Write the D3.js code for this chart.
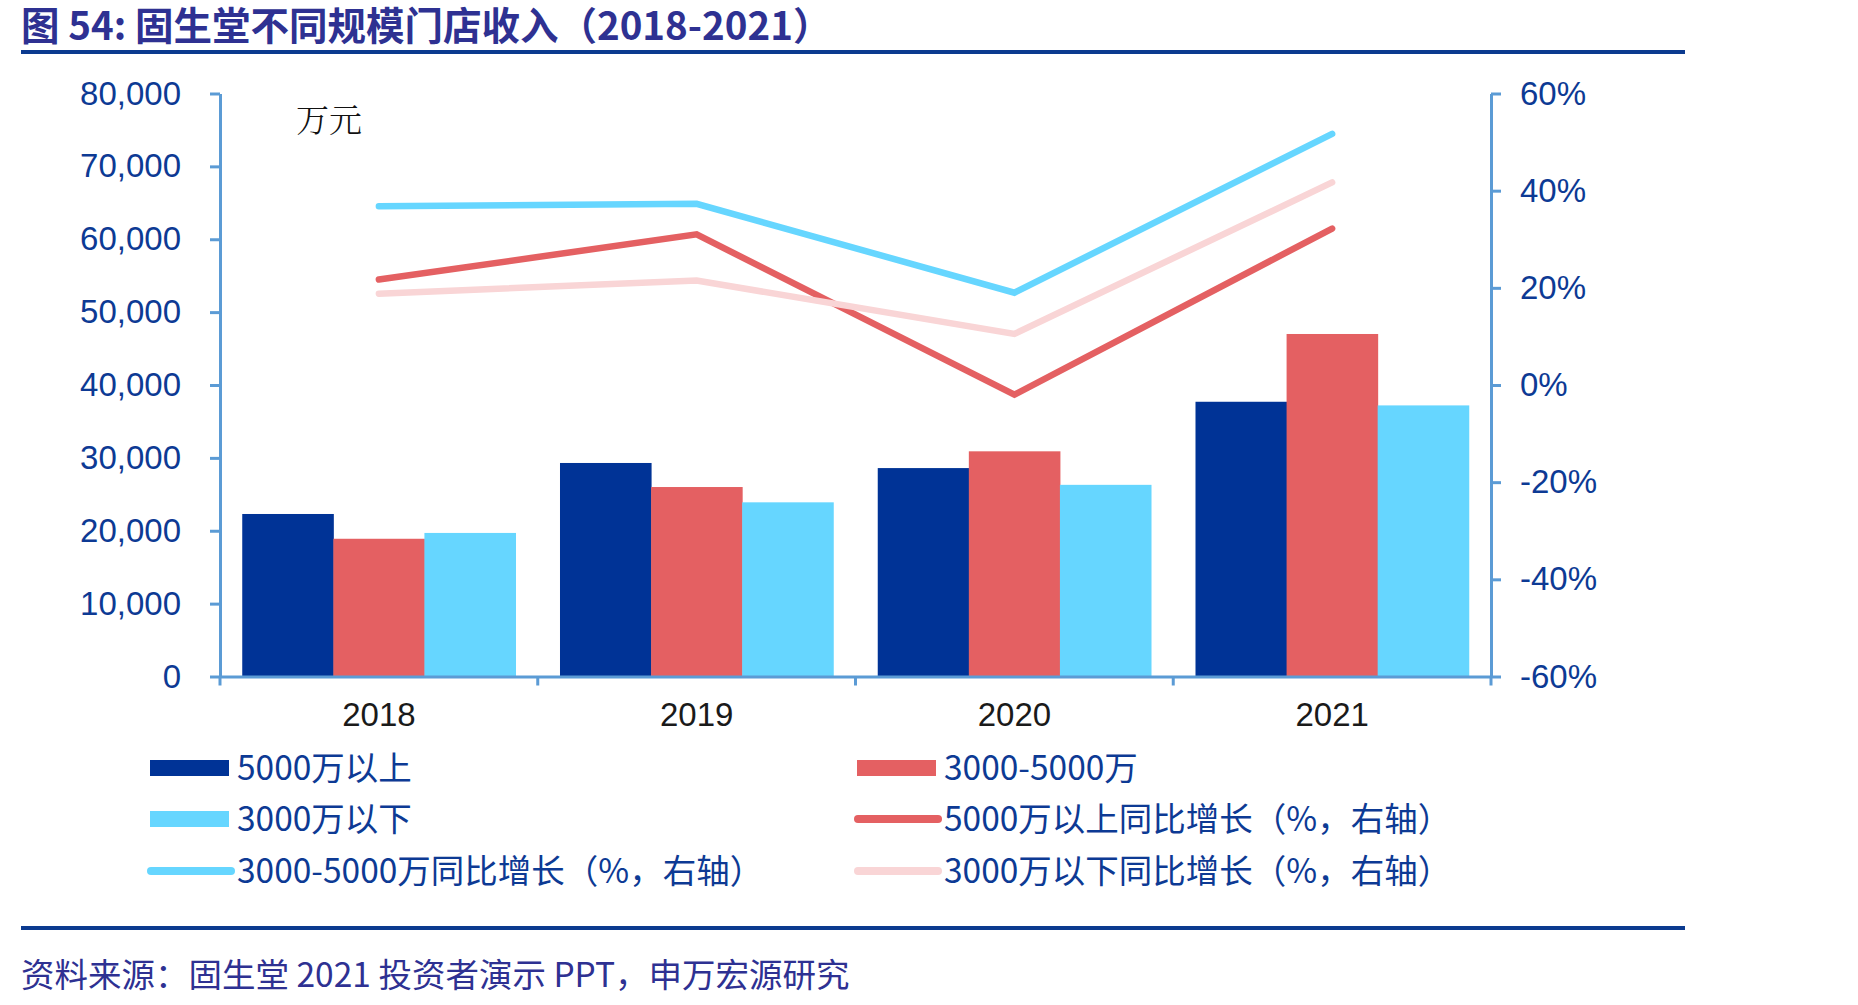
<!DOCTYPE html>
<html><head><meta charset="utf-8">
<script src="https://cdn.jsdelivr.net/npm/d3@7"></script>
<style>
html,body{margin:0;padding:0;background:#fff;}
svg{display:block;}
</style></head>
<body>
<svg id="chart" width="1858" height="1005"></svg>
<script>
// ---- data ----
const years = ["2018", "2019", "2020", "2021"];
const barSeries = ["5000万以上", "3000-5000万", "3000万以下"];
const revAbove5000 = [22300, 29300, 28600, 37700];
const rev3000to5000 = [18900, 26000, 30900, 47000];
const revBelow3000 = [19700, 23900, 26300, 37200];
const lineSeries = ["5000万以上同比增长（%，右轴）", "3000-5000万同比增长（%，右轴）", "3000万以下同比增长（%，右轴）"];
const yoyAbove5000 = [21.7, 31.0, -2.0, 32.2];
const yoy3000to5000 = [36.8, 37.3, 19.0, 51.7];
const yoyBelow3000 = [18.8, 21.5, 10.5, 41.7];
const leftTicks = [0, 10000, 20000, 30000, 40000, 50000, 60000, 70000, 80000];
const rightTicks = [-60, -40, -20, 0, 20, 40, 60];

const barColors = ["#003396", "#E46062", "#66D6FF"];
const lineColors = ["#E46062", "#66D6FF", "#F9D5D6"];
const axisColor = "#5B9BD5";
const textBlue = "#0D3A94";
const titleColor = "#2E3192";

const svg = d3.select("#chart");
const L = 220, R = 1491, T = 93.5, B = 676.5;

const x0 = d3.scaleBand().domain(years).range([L, R]).paddingInner(0.14).paddingOuter(0.07);
const x1 = d3.scaleBand().domain(barSeries).range([0, x0.bandwidth()]).padding(0);
const yL = d3.scaleLinear().domain([0, 80000]).range([B, T]);
const yR = d3.scaleLinear().domain([-60, 60]).range([B, T]);

// Title
svg.append("text").attr("x", 21).attr("y", 40)
  .attr("font-family", "'Noto Sans CJK SC', sans-serif").attr("font-weight", 700)
  .attr("font-size", 38.5).attr("fill", titleColor)
  .text("图 54: 固生堂不同规模门店收入（2018-2021）");
svg.append("rect").attr("x", 21).attr("y", 50).attr("width", 1664).attr("height", 4).attr("fill", "#0B3A8F");
svg.append("rect").attr("x", 21).attr("y", 926).attr("width", 1664).attr("height", 4).attr("fill", "#0B3A8F");
svg.append("text").attr("x", 21).attr("y", 987)
  .attr("font-family", "'Noto Sans CJK SC', sans-serif")
  .attr("font-size", 33.5).attr("fill", titleColor)
  .text("资料来源：固生堂 2021 投资者演示 PPT，申万宏源研究");

// bars
const barData = [revAbove5000, rev3000to5000, revBelow3000];
const gBars = svg.append("g");
years.forEach((yr, i) => {
  barSeries.forEach((s, j) => {
    gBars.append("rect")
      .attr("x", x0(yr) + x1(s))
      .attr("y", yL(barData[j][i]))
      .attr("width", x1.bandwidth() + 0.5)
      .attr("height", yL(0) - yL(barData[j][i]))
      .attr("fill", barColors[j]);
  });
});

// axes
const fontNum = "'Liberation Sans', Arial, sans-serif";
const gL = svg.append("g").attr("transform", `translate(${L},0)`)
  .call(d3.axisLeft(yL).tickValues(leftTicks).tickSize(10).tickSizeOuter(0).tickPadding(29).tickFormat(d3.format(",")));
const gR = svg.append("g").attr("transform", `translate(${R},0)`)
  .call(d3.axisRight(yR).tickValues(rightTicks).tickSize(10).tickSizeOuter(0).tickPadding(19).tickFormat(d => d + "%"));
[gL, gR].forEach(g => {
  g.select(".domain").attr("stroke", axisColor).attr("stroke-width", 3);
  g.selectAll(".tick line").attr("stroke", axisColor).attr("stroke-width", 3);
  g.selectAll(".tick text").attr("font-family", fontNum).attr("font-size", 33).attr("fill", textBlue);
});
const gX = svg.append("g").attr("transform", `translate(0,${B})`)
  .call(d3.axisBottom(x0).tickSize(0).tickPadding(26));
gX.select(".domain").attr("stroke", axisColor).attr("stroke-width", 3);
gX.selectAll(".tick text").attr("font-family", fontNum).attr("font-size", 33).attr("fill", "#1a1a1a");
// boundary ticks on x axis
d3.range(years.length + 1).forEach(i => {
  const xx = L + i * x0.step();
  svg.append("line").attr("x1", xx).attr("x2", xx).attr("y1", B).attr("y2", B + 9)
    .attr("stroke", axisColor).attr("stroke-width", 3);
});

// lines
const lineData = [yoyAbove5000, yoy3000to5000, yoyBelow3000];
const lineGen = d3.line().x((d, i) => x0(years[i]) + x0.bandwidth() / 2).y(d => yR(d));
lineData.forEach((arr, k) => {
  svg.append("path").attr("d", lineGen(arr)).attr("fill", "none")
    .attr("stroke", lineColors[k]).attr("stroke-width", 6.5)
    .attr("stroke-linecap", "round").attr("stroke-linejoin", "miter");
});

// unit label
svg.append("text").attr("x", 296).attr("y", 132)
  .attr("font-family", "'Noto Serif CJK SC', 'Noto Sans CJK SC', serif").attr("font-weight", 300)
  .attr("font-size", 33).attr("fill", "#111").text("万元");

// legend
const legFont = "'Noto Sans CJK SC', sans-serif";
const legItems = [
  {type: "rect", color: barColors[0], label: barSeries[0], col: 0, row: 0},
  {type: "rect", color: barColors[1], label: barSeries[1], col: 1, row: 0},
  {type: "rect", color: barColors[2], label: barSeries[2], col: 0, row: 1},
  {type: "line", color: lineColors[0], label: lineSeries[0], col: 1, row: 1},
  {type: "line", color: lineColors[1], label: lineSeries[1], col: 0, row: 2},
  {type: "line", color: lineColors[2], label: lineSeries[2], col: 1, row: 2},
];
const colX = [150, 857];
const rowY = [768, 819, 871];
legItems.forEach(it => {
  const x = colX[it.col], y = rowY[it.row];
  if (it.type === "rect") {
    svg.append("rect").attr("x", x).attr("y", y - 8).attr("width", 79).attr("height", 16).attr("fill", it.color);
  } else {
    svg.append("line").attr("x1", x + 1).attr("x2", x + 81).attr("y1", y).attr("y2", y)
      .attr("stroke", it.color).attr("stroke-width", 8).attr("stroke-linecap", "round");
  }
  svg.append("text").attr("x", x + 87).attr("y", y).attr("dy", "0.36em")
    .attr("font-family", legFont).attr("font-size", 33.5).attr("fill", textBlue).text(it.label);
});
</script>
</body></html>
